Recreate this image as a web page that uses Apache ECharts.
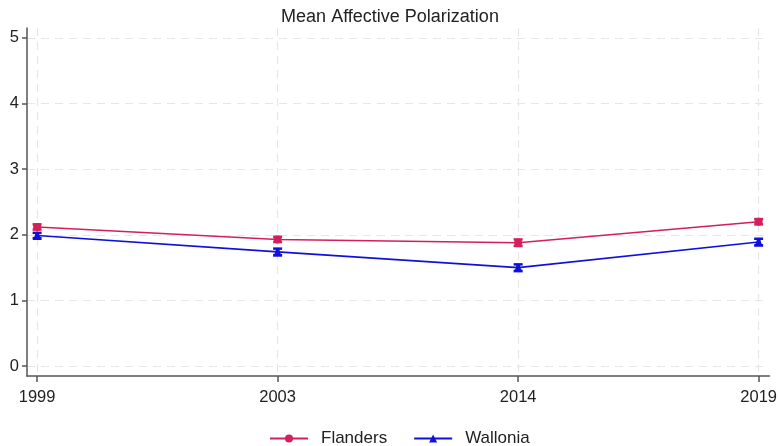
<!DOCTYPE html>
<html>
<head>
<meta charset="utf-8">
<script src="https://cdn.jsdelivr.net/npm/echarts@6/dist/echarts.min.js"></script>
<style>html,body{margin:0;padding:0;background:#fff;}#c{width:780px;height:446px;}</style>
</head>
<body>
<div id="c"></div>
<script>
const years = ['1999', '2003', '2014', '2019'];
const flanders = [2.12, 1.93, 1.88, 2.20];
const flandersErr = [0.04, 0.04, 0.05, 0.04];
const wallonia = [1.99, 1.74, 1.50, 1.89];
const walloniaErr = [0.04, 0.05, 0.05, 0.05];
const yTicks = [0, 1, 2, 3, 4, 5];

const FL = '#d4205a';
const WA = '#1010dd';
const FONT = 'Liberation Sans, Arial';

function lineData(vals) { return vals.map((v, i) => [i, v]); }
function errData(vals, errs) { return vals.map((v, i) => [i, v - errs[i], v + errs[i]]); }

function errRender(color) {
  return function (params, api) {
    const x = api.value(0);
    const lo = api.coord([x, api.value(1)]);
    const hi = api.coord([x, api.value(2)]);
    const w = 4.5;
    const st = { stroke: color, lineWidth: 2.5 };
    return {
      type: 'group',
      children: [
        { type: 'line', shape: { x1: lo[0], y1: lo[1], x2: hi[0], y2: hi[1] }, style: { stroke: color, lineWidth: 4 } },
        { type: 'line', shape: { x1: lo[0] - w, y1: lo[1], x2: lo[0] + w, y2: lo[1] }, style: st },
        { type: 'line', shape: { x1: hi[0] - w, y1: hi[1], x2: hi[0] + w, y2: hi[1] }, style: st }
      ]
    };
  };
}

const chart = echarts.init(document.getElementById('c'));
chart.setOption({
  animation: false,
  backgroundColor: '#fff',
  title: {
    text: 'Mean Affective Polarization',
    left: 'center', top: 3,
    textStyle: { fontFamily: FONT, fontWeight: 'normal', fontSize: 18, color: '#222' }
  },
  legend: {
    top: 425, left: 264,
    itemGap: 26, itemWidth: 38, itemHeight: 10,
    data: ['Flanders', 'Wallonia'],
    textStyle: { fontFamily: FONT, fontSize: 17, color: '#222', padding: [0, 0, 0, 8] }
  },
  grid: { left: 27, right: 10, top: 28, bottom: 70, containLabel: false },
  xAxis: {
    type: 'value', min: -0.042, max: 3.045,
    axisLine: { show: true, onZero: false, lineStyle: { color: '#555', width: 1.5 } },
    axisTick: { show: true, customValues: [0, 1, 2, 3], length: 6, lineStyle: { color: '#555', width: 1.5 } },
    axisLabel: {
      customValues: [0, 1, 2, 3],
      formatter: v => years[Math.round(v)],
      fontFamily: FONT, fontSize: 16.5, color: '#222', margin: 13
    },
    splitLine: { show: true, lineStyle: { color: '#e6e6e6', type: [8, 6], width: 1.2 } }
  },
  yAxis: {
    type: 'value', min: -0.15, max: 5.15,
    axisLine: { show: true, onZero: false, lineStyle: { color: '#555', width: 1.5 } },
    axisTick: { show: true, customValues: yTicks, length: 5, lineStyle: { color: '#555', width: 1.5 } },
    axisLabel: {
      customValues: yTicks,
      fontFamily: FONT, fontSize: 16.5, color: '#222', margin: 8
    },
    splitLine: { show: true, lineStyle: { color: '#e6e6e6', type: [8, 6], width: 1.2 } }
  },
  series: [
    {
      name: 'Flanders', type: 'line', data: lineData(flanders),
      symbol: 'circle', symbolSize: 8,
      itemStyle: { color: FL }, lineStyle: { color: FL, width: 1.6 }, z: 3
    },
    {
      name: 'Wallonia', type: 'line', data: lineData(wallonia),
      symbol: 'triangle', symbolSize: 9,
      itemStyle: { color: WA }, lineStyle: { color: WA, width: 1.6 }, z: 3
    },
    {
      name: 'Flanders', type: 'custom', data: errData(flanders, flandersErr),
      renderItem: errRender(FL), z: 4, encode: { x: 0, y: [1, 2] }
    },
    {
      name: 'Wallonia', type: 'custom', data: errData(wallonia, walloniaErr),
      renderItem: errRender(WA), z: 4, encode: { x: 0, y: [1, 2] }
    }
  ]
});
</script>
</body>
</html>
